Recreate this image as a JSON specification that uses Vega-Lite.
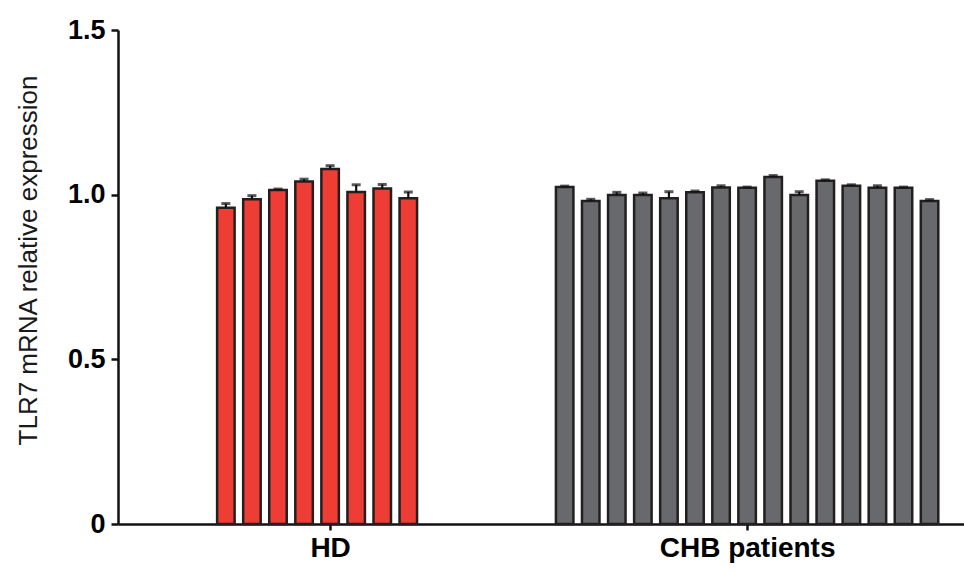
{
  "$schema": "https://vega.github.io/schema/vega-lite/v6.json",
  "width": 846,
  "height": 494,
  "autosize": {"type": "none"},
  "padding": {"left": 118, "top": 30, "right": 0, "bottom": 49},
  "background": "white",
  "config": {"view": {"stroke": null}},
  "data": {
    "values": [
      {"group": "HD", "slot": 1, "mean": 0.960, "err": 0.013},
      {"group": "HD", "slot": 2, "mean": 0.986, "err": 0.011},
      {"group": "HD", "slot": 3, "mean": 1.014, "err": 0.003},
      {"group": "HD", "slot": 4, "mean": 1.040, "err": 0.007},
      {"group": "HD", "slot": 5, "mean": 1.078, "err": 0.010},
      {"group": "HD", "slot": 6, "mean": 1.008, "err": 0.022},
      {"group": "HD", "slot": 7, "mean": 1.019, "err": 0.012},
      {"group": "HD", "slot": 8, "mean": 0.989, "err": 0.019},
      {"group": "CHB patients", "slot": 14, "mean": 1.023, "err": 0.003},
      {"group": "CHB patients", "slot": 15, "mean": 0.981, "err": 0.005},
      {"group": "CHB patients", "slot": 16, "mean": 0.999, "err": 0.008},
      {"group": "CHB patients", "slot": 17, "mean": 0.999, "err": 0.006},
      {"group": "CHB patients", "slot": 18, "mean": 0.989, "err": 0.020},
      {"group": "CHB patients", "slot": 19, "mean": 1.007, "err": 0.004},
      {"group": "CHB patients", "slot": 20, "mean": 1.022, "err": 0.005},
      {"group": "CHB patients", "slot": 21, "mean": 1.021, "err": 0.002},
      {"group": "CHB patients", "slot": 22, "mean": 1.054, "err": 0.004},
      {"group": "CHB patients", "slot": 23, "mean": 0.999, "err": 0.010},
      {"group": "CHB patients", "slot": 24, "mean": 1.042, "err": 0.003},
      {"group": "CHB patients", "slot": 25, "mean": 1.027, "err": 0.003},
      {"group": "CHB patients", "slot": 26, "mean": 1.021, "err": 0.006},
      {"group": "CHB patients", "slot": 27, "mean": 1.021, "err": 0.002},
      {"group": "CHB patients", "slot": 28, "mean": 0.981, "err": 0.004}
    ]
  },
  "transform": [{"calculate": "datum.mean + datum.err", "as": "upper"}],
  "encoding": {
    "x": {
      "field": "slot",
      "type": "quantitative",
      "scale": {"domain": [-2.947, 29.13], "nice": false, "zero": false},
      "axis": {
        "values": [5, 21],
        "labelExpr": "datum.value == 5 ? 'HD' : 'CHB patients'",
        "title": null,
        "grid": false,
        "domainColor": "#111111",
        "domainWidth": 2.5,
        "tickColor": "#111111",
        "tickWidth": 2.5,
        "tickSize": 6,
        "labelFont": "Liberation Sans",
        "labelFontWeight": "bold",
        "labelFontSize": 28,
        "labelColor": "#000000",
        "labelPadding": 4,
        "encode": {"labels": {"update": {"dx": {"signal": "datum.value == 21 ? 10 : 1"}}}}
      }
    }
  },
  "layer": [
    {
      "mark": {"type": "bar", "width": 17.5, "stroke": "#231F20", "strokeWidth": 2.5},
      "encoding": {
        "y": {
          "field": "mean",
          "type": "quantitative",
          "scale": {"domain": [0, 1.5], "nice": false},
          "axis": {
            "values": [0, 0.5, 1.0, 1.5],
            "labelExpr": "datum.value == 0 ? '0' : format(datum.value, '.1f')",
            "title": "TLR7 mRNA relative expression",
            "titleFont": "Liberation Sans",
            "titleFontSize": 26,
            "titleFontWeight": "normal",
            "titleColor": "#1a1a1a",
            "titlePadding": 26,
            "titleY": 230,
            "grid": false,
            "domainColor": "#111111",
            "domainWidth": 2.5,
            "tickColor": "#111111",
            "tickWidth": 2.5,
            "tickSize": 7,
            "labelFont": "Liberation Sans",
            "labelFontWeight": "bold",
            "labelFontSize": 27,
            "labelColor": "#000000",
            "labelPadding": 6
          }
        },
        "color": {
          "field": "group",
          "type": "nominal",
          "scale": {"domain": ["HD", "CHB patients"], "range": ["#EE3D35", "#68696D"]},
          "legend": null
        }
      }
    },
    {
      "mark": {"type": "rule", "color": "#111111", "strokeWidth": 2.2},
      "encoding": {
        "y": {"field": "mean", "type": "quantitative"},
        "y2": {"field": "upper"}
      }
    },
    {
      "mark": {"type": "tick", "orient": "horizontal", "color": "#111111", "size": 9, "thickness": 3},
      "encoding": {
        "y": {"field": "upper", "type": "quantitative"}
      }
    }
  ]
}
